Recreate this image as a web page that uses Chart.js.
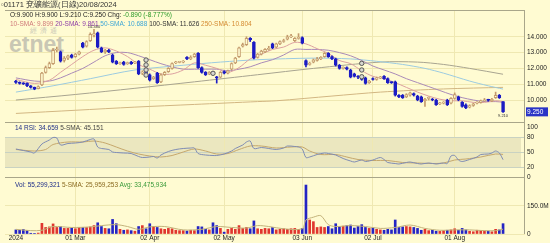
<!DOCTYPE html>
<html>
<head>
<meta charset="utf-8">
<script src="https://cdn.jsdelivr.net/npm/chart.js@4.4.1/dist/chart.umd.min.js"></script>
<style>
  html, body { margin: 0; padding: 0; background: #fffbd2; }
  #wrap { position: relative; width: 550px; height: 243px; overflow: hidden; font-family: "Liberation Sans", Arial, sans-serif; }
  #c { position: absolute; left: 0; top: 0; }
  .t { position: absolute; white-space: nowrap; font-size: 6.5px; line-height: 8px; color: #222; }
</style>
</head>
<body>
<div id="wrap">
  <div class="t" style="left:30px;top:27px;font-size:7px;color:#c9c7b4;letter-spacing:3px">經濟通</div>
  <div class="t" style="left:9px;top:32px;font-size:23px;line-height:24px;font-weight:bold;color:#c9c7b4">etnet</div>
  <canvas id="c" width="550" height="243"></canvas>
  <div class="t" style="left:1px;top:1px;font-size:7.5px;color:#333">▫01171 兗礦能源(日線)20/08/2024</div>
  <div class="t" style="left:10px;top:11px">O:9.900 H:9.900 L:9.210 C:9.250 Chg: <span style="color:#2a9a2a">-0.890 (-8.777%)</span></div>
  <div class="t" style="left:10px;top:20px"><span style="color:#d07a7a">10-SMA: 9.899</span> <span style="color:#9040a8">20-SMA: 9.861</span> <span style="color:#3ea6d6">50-SMA: 10.688</span> <span style="color:#333">100-SMA: 11.626</span> <span style="color:#d48a30">250-SMA: 10.804</span></div>
  <div class="t" style="left:15px;top:124px"><span style="color:#1c2c88">14 RSI: 34.659</span> <span style="color:#444">5-SMA: 45.151</span></div>
  <div class="t" style="left:15px;top:181px"><span style="color:#1c2c88">Vol: 55,299,321</span> <span style="color:#8a6a20">5-SMA: 25,959,253</span> <span style="color:#3a9a3a">Avg: 33,475,934</span></div>
</div>
<script>
// daily candles, 6 Feb 2024 .. 20 Aug 2024 (HK trading days)
const holidays = ['2024-02-12', '2024-02-13', '2024-03-29', '2024-04-01', '2024-04-04', '2024-05-01', '2024-05-15', '2024-06-10', '2024-07-01']
const xTickDates = ['2024-02-06', '2024-03-01', '2024-04-02', '2024-05-02', '2024-06-03', '2024-07-02', '2024-08-01']
const xTickLabels = ['2024', '01 Mar', '02 Apr', '02 May', '03 Jun', '02 Jul', '01 Aug']

const opens = [11.20, 11.12, 11.05, 11.05, 10.90, 10.80, 10.72, 10.95, 11.75, 12.05,
  12.30, 13.15, 13.05, 12.50, 12.65, 12.85, 12.75, 12.90, 13.60, 13.40,
  13.75, 14.10, 14.25, 13.30, 13.05, 13.15, 12.85, 12.45, 12.30, 12.40,
  12.30, 12.40, 12.35, 12.45, 11.70, 11.75, 11.60, 11.35, 11.70, 11.15,
  11.60, 11.80, 12.00, 12.35, 12.38, 12.40, 12.70, 12.60, 12.75, 12.95,
  12.05, 11.75, 11.65, 11.75, 11.45, 11.45, 11.80, 11.70, 11.95, 12.35,
  12.75, 13.40, 13.50, 13.90, 13.65, 12.70, 12.90, 13.05, 13.20, 13.55,
  13.35, 13.55, 13.70, 13.85, 14.00, 13.75, 13.90, 13.95, 12.50, 12.25,
  12.40, 12.50, 12.60, 12.75, 12.95, 12.75, 12.60, 12.20, 12.00, 12.05,
  11.90, 11.65, 11.50, 11.40, 11.40, 11.10, 11.35, 11.30, 11.40, 11.50,
  11.35, 11.12, 11.15, 10.30, 10.30, 10.20, 10.30, 10.40, 10.25, 10.20,
  9.95, 10.10, 10.05, 10.00, 9.75, 9.80, 10.00, 9.80, 10.10, 10.20,
  9.85, 9.70, 9.55, 9.65, 9.80, 9.85, 9.95, 10.00, 9.95, 10.15,
  10.30, 9.90]
const highs = [11.25, 11.15, 11.10, 11.08, 10.92, 10.82, 10.90, 11.75, 12.15, 12.40,
  13.25, 13.35, 13.10, 12.75, 12.85, 12.90, 12.95, 13.10, 13.65, 13.75,
  14.25, 14.48, 14.30, 13.35, 13.20, 13.20, 12.90, 12.50, 12.40, 12.45,
  12.40, 12.45, 12.45, 12.50, 11.85, 11.80, 11.65, 11.50, 11.75, 11.65,
  11.80, 12.05, 12.35, 12.45, 12.45, 12.50, 12.75, 12.80, 12.95, 13.00,
  12.10, 11.80, 11.80, 11.80, 11.50, 11.80, 11.85, 11.90, 12.35, 12.70,
  13.35, 13.60, 14.00, 13.95, 13.70, 12.95, 13.15, 13.25, 13.40, 13.60,
  13.60, 13.75, 13.85, 14.10, 14.15, 13.95, 14.20, 14.00, 12.55, 12.40,
  12.60, 12.70, 12.75, 13.00, 13.00, 12.80, 12.65, 12.25, 12.10, 12.10,
  11.95, 11.70, 11.55, 11.45, 11.45, 11.25, 11.40, 11.45, 11.50, 11.55,
  11.40, 11.15, 11.20, 10.35, 10.35, 10.40, 10.50, 10.45, 10.30, 10.25,
  10.10, 10.20, 10.10, 10.05, 9.85, 9.90, 10.05, 10.15, 10.45, 10.25,
  9.90, 9.75, 9.70, 9.80, 9.90, 10.00, 10.10, 10.05, 10.10, 10.50,
  10.35, 9.90]
const lows = [11.05, 11.00, 10.98, 10.85, 10.75, 10.65, 10.70, 10.90, 11.70, 12.00,
  12.25, 13.05, 12.40, 12.40, 12.55, 12.65, 12.70, 12.85, 13.30, 13.35,
  13.70, 14.00, 13.30, 13.00, 12.95, 13.00, 12.35, 12.25, 12.25, 12.20,
  12.25, 12.25, 12.30, 11.60, 11.60, 11.60, 11.20, 11.30, 11.05, 11.10,
  11.55, 11.75, 11.95, 12.30, 12.35, 12.35, 12.55, 12.55, 12.70, 12.00,
  11.70, 11.55, 11.60, 11.60, 11.07, 11.40, 11.65, 11.65, 11.90, 12.30,
  12.70, 13.35, 13.45, 13.70, 12.60, 12.65, 12.85, 13.00, 13.15, 13.25,
  13.30, 13.50, 13.65, 13.80, 13.95, 13.70, 13.85, 13.55, 12.10, 12.20,
  12.35, 12.45, 12.55, 12.70, 12.70, 12.55, 12.15, 11.95, 11.95, 11.90,
  11.40, 11.45, 11.35, 11.25, 11.00, 11.05, 11.25, 11.25, 11.35, 11.30,
  11.05, 11.05, 10.25, 10.15, 10.10, 10.15, 10.25, 10.25, 9.95, 9.85,
  9.60, 10.00, 9.95, 9.65, 9.70, 9.75, 9.65, 9.75, 10.05, 9.95,
  9.55, 9.45, 9.50, 9.60, 9.75, 9.80, 9.90, 9.92, 9.90, 10.10,
  10.10, 9.21]
const closes = [11.12, 11.05, 11.02, 10.90, 10.80, 10.68, 10.85, 11.70, 12.05, 12.30,
  13.15, 13.20, 12.45, 12.65, 12.80, 12.70, 12.90, 13.05, 13.35, 13.70,
  14.15, 14.20, 13.35, 13.05, 13.15, 13.05, 12.40, 12.30, 12.35, 12.25,
  12.35, 12.30, 12.40, 11.65, 11.75, 11.70, 11.25, 11.45, 11.10, 11.60,
  11.75, 12.00, 12.30, 12.40, 12.40, 12.45, 12.60, 12.70, 12.90, 12.05,
  11.75, 11.60, 11.75, 11.65, 11.40, 11.75, 11.70, 11.85, 12.30, 12.65,
  13.30, 13.50, 13.90, 13.80, 12.65, 12.90, 13.10, 13.20, 13.25, 13.30,
  13.55, 13.70, 13.75, 14.00, 14.05, 13.90, 13.95, 13.60, 12.20, 12.30,
  12.55, 12.60, 12.70, 12.95, 12.75, 12.60, 12.20, 12.00, 12.05, 11.95,
  11.45, 11.50, 11.45, 11.30, 11.05, 11.20, 11.30, 11.40, 11.45, 11.35,
  11.10, 11.10, 10.30, 10.20, 10.15, 10.35, 10.45, 10.30, 10.00, 9.90,
  10.05, 10.15, 10.00, 9.70, 9.80, 9.85, 9.70, 10.10, 10.35, 10.00,
  9.60, 9.50, 9.65, 9.75, 9.85, 9.95, 10.00, 9.98, 10.05, 10.30,
  10.14, 9.25]
// volume in millions of shares
const volumes = [22, 20, 24, 18, 4, 3, 5, 57, 35, 38,
  54, 35, 40, 30, 30, 32, 28, 35, 35, 35,
  38, 45, 60, 40, 30, 28, 78, 55, 25, 20,
  22, 18, 15, 40, 45, 28, 55, 40, 35, 28,
  25, 30, 28, 20, 18, 18, 16, 20, 18, 40,
  38, 25, 22, 60, 45, 30, 10, 25, 30, 25,
  45, 30, 35, 28, 70, 28, 25, 30, 28, 35,
  22, 25, 28, 25, 28, 30, 25, 30, 262, 75,
  66, 35, 38, 35, 40, 28, 55, 38, 42, 45,
  48, 32, 40, 50, 35, 30, 32, 25, 22, 20,
  25, 22, 75, 35, 38, 40, 38, 35, 30, 20,
  25, 18, 20, 15, 14, 18, 20, 22, 28, 20,
  30, 22, 15, 12, 20, 18, 16, 15, 12, 25,
  22, 55.3]

// moving averages: [candle index, value]
const sma10 = [[0, 11.3], [5, 11.05], [9, 11.25], [12, 11.75], [15, 12.25], [18, 12.75], [21, 13.15], [24, 13.3], [27, 13.1], [30, 12.75],
  [33, 12.25], [36, 11.95], [39, 11.65], [42, 11.65], [45, 11.9], [48, 12.35], [51, 12.2], [54, 12.0], [57, 11.75], [60, 12.05],
  [63, 12.6], [66, 12.9], [69, 13.2], [72, 13.35], [75, 13.65], [78, 13.55], [81, 13.25], [84, 12.95], [87, 12.5], [90, 12.3],
  [93, 11.85], [96, 11.5], [99, 11.35], [102, 11.1], [105, 10.8], [108, 10.5], [111, 10.25], [114, 10.05], [117, 9.95], [120, 9.95],
  [123, 9.85], [126, 9.85], [129, 9.95], [131, 9.9]]
const sma20 = [[0, 11.4], [5, 11.2], [9, 11.2], [12, 11.4], [15, 11.7], [18, 12.0], [21, 12.4], [24, 12.8], [27, 13.0], [30, 13.0],
  [33, 12.8], [36, 12.55], [39, 12.3], [42, 12.1], [45, 11.95], [48, 11.95], [51, 11.95], [54, 11.95], [57, 11.85], [60, 11.95],
  [63, 12.1], [66, 12.35], [69, 12.55], [72, 12.85], [75, 13.2], [78, 13.2], [81, 13.2], [84, 13.15], [87, 13.0], [90, 12.8],
  [93, 12.5], [96, 12.15], [99, 11.9], [102, 11.65], [105, 11.35], [108, 11.1], [111, 10.85], [114, 10.6], [117, 10.35], [120, 10.15],
  [123, 10.0], [126, 9.9], [129, 9.9], [131, 9.86]]
const sma50 = [[0, 10.5], [10, 10.9], [20, 11.35], [32, 11.9], [45, 12.2], [55, 12.4], [65, 12.55], [80, 12.65], [90, 12.6], [97, 12.45],
  [104, 12.25], [110, 12.0], [115, 11.7], [122, 11.2], [127, 10.9], [131, 10.69]]
const sma100 = [[0, 10.0], [16, 10.35], [32, 10.74], [48, 11.15], [65, 11.6], [80, 12.0], [98, 12.4], [108, 12.4], [115, 12.25], [122, 12.0],
  [131, 11.63]]
const sma250 = [[0, 9.15], [16, 9.35], [32, 9.55], [48, 9.72], [65, 9.9], [70, 9.95], [85, 10.25], [98, 10.5], [115, 10.7], [131, 10.8]]
// event markers drawn above some candles
const markers = [[35, 12.53], [35, 12.22], [35, 11.9], [35, 11.58], [53, 11.69], [93, 12.32], [93, 11.9], [93, 11.47]]

const rsi = [[0, 56], [2, 53], [4, 50], [5, 48], [7, 66], [9, 74], [10, 79], [11, 78], [12, 64], [14, 67],
  [16, 68], [18, 70], [20, 75], [21, 76], [22, 60], [23, 57], [25, 55], [26, 50], [27, 49], [29, 48],
  [31, 47], [33, 41], [34, 39], [36, 40], [37, 41], [38, 38], [39, 44], [41, 51], [43, 55], [45, 57],
  [47, 58], [48, 58], [49, 47], [51, 44], [53, 43], [54, 43], [56, 46], [58, 52], [59, 57], [61, 64],
  [62, 70], [63, 72], [64, 57], [66, 59], [68, 57], [70, 55], [72, 58], [73, 62], [75, 61], [76, 60],
  [77, 56], [78, 39], [79, 40], [81, 45], [83, 48], [84, 47], [86, 44], [88, 37], [90, 32], [91, 30],
  [93, 34], [94, 31], [96, 34], [98, 39], [99, 35], [100, 29], [102, 27], [103, 26], [105, 29], [106, 30],
  [108, 27], [109, 26], [111, 28], [113, 26], [114, 27], [115, 28], [116, 27], [117, 42], [118, 43], [119, 34],
  [120, 31], [122, 35], [124, 40], [125, 45], [127, 46], [128, 48], [129, 52], [130, 48], [131, 34.66]]
const rsiSma = [[0, 55], [5, 52], [8, 55], [10, 65], [14, 70], [18, 70], [21, 72], [24, 68], [27, 60], [30, 52],
  [33, 46], [36, 42], [39, 40], [42, 43], [45, 50], [48, 56], [51, 52], [54, 46], [57, 47], [60, 55],
  [63, 62], [66, 62], [70, 58], [74, 60], [77, 60], [79, 52], [82, 45], [86, 45], [89, 40], [92, 35],
  [96, 33], [100, 33], [104, 29], [108, 28], [112, 27], [115, 28], [118, 34], [121, 36], [125, 40], [129, 46],
  [131, 45.15]]
const volSma = [[0, 25], [4, 18], [7, 20], [10, 40], [15, 35], [20, 38], [23, 45], [27, 50], [30, 40], [33, 25],
  [36, 38], [40, 40], [45, 22], [50, 25], [54, 40], [58, 35], [62, 32], [65, 45], [68, 40], [72, 28],
  [77, 28], [78, 75], [80, 90], [82, 98], [84, 50], [86, 40], [90, 45], [94, 40], [98, 30], [102, 35],
  [106, 48], [110, 30], [114, 20], [118, 22], [122, 22], [126, 18], [129, 18], [131, 26]]

const dates = []
for (let d = new Date(Date.UTC(2024, 1, 6)); dates.length < closes.length; d.setUTCDate(d.getUTCDate() + 1)) {
  const s = d.toISOString().slice(0, 10)
  const wd = d.getUTCDay()
  if (wd === 0 || wd === 6 || holidays.includes(s)) continue
  dates.push(s)
}
const tickIdx = xTickDates.map(d => dates.indexOf(d))

const BG = '#fffbd2'
const UP = '#c39a6c'
const DOWN = '#1c1cc4'
const isUp = i => closes[i] >= opens[i]
const pts = arr => arr.map(([x, y]) => ({ x, y }))
const line = (data, color, axis) => ({
  type: 'line', data: pts(data), yAxisID: axis, borderColor: color, borderWidth: 1,
  pointRadius: 0, tension: 0.3, order: 5
})

const frame = {
  id: 'frame',
  beforeDraw(chart) {
    const { ctx, chartArea: a, scales } = chart
    const r = scales.yR
    const y80 = r.getPixelForValue(80)
    const y20 = r.getPixelForValue(20)
    ctx.save()
    ctx.fillStyle = '#ebe7bf'
    ctx.fillRect(a.left, y80, a.right - a.left - 4, y20 - y80)
    ctx.restore()
  },
  afterDraw(chart) {
    const { ctx, chartArea: a, scales } = chart
    ctx.save()
    ctx.strokeStyle = '#a9a68a'
    ctx.lineWidth = 1
    ctx.beginPath()
    for (const id of ['y', 'yR', 'yV']) {
      const t = Math.round(scales[id].top) + 0.5
      ctx.moveTo(a.left, t)
      ctx.lineTo(a.right, t)
    }
    ctx.moveTo(a.right - 0.5, a.top)
    ctx.lineTo(a.right - 0.5, a.bottom)
    ctx.stroke()

    // peak / last low annotations
    const x = scales.x, y = scales.y
    ctx.fillStyle = '#333'
    ctx.font = '4px "Liberation Sans", Arial'
    ctx.textAlign = 'center'
    ctx.fillText('14.480', x.getPixelForValue(21), y.getPixelForValue(14.48) - 1)
    ctx.textBaseline = 'top'
    ctx.fillText('9.210', x.getPixelForValue(131), y.getPixelForValue(9.21) + 1)

    // last price box
    const py = y.getPixelForValue(closes[closes.length - 1])
    ctx.fillStyle = '#2a34c6'
    ctx.fillRect(a.right + 1, py - 4.5, 22, 9)
    ctx.fillStyle = '#fff'
    ctx.textAlign = 'left'
    ctx.textBaseline = 'middle'
    ctx.font = '6.5px "Liberation Sans", Arial'
    ctx.fillText(closes[closes.length - 1].toFixed(3), a.right + 2, py)
    ctx.restore()
  }
}

const tickFont = { size: 6.5, family: '"Liberation Sans", Arial' }
const yAxis = (extra) => Object.assign({
  position: 'right', stack: 'panels',
  border: { display: false },
  ticks: { autoSkip: false, padding: 2, color: '#222', font: tickFont },
  afterFit: s => { s.width = 25 }
}, extra)

new Chart(document.getElementById('c'), {
  type: 'bar',
  data: {
    datasets: [
      {
        data: dates.map((_, i) => ({ x: i, y: [opens[i], closes[i]] })),
        yAxisID: 'y', grouped: false, barThickness: 3, minBarLength: 1,
        borderWidth: 1, borderSkipped: false,
        backgroundColor: dates.map((_, i) => isUp(i) ? BG : DOWN),
        borderColor: dates.map((_, i) => isUp(i) ? UP : DOWN),
        order: 1
      },
      {
        data: dates.map((_, i) => ({ x: i, y: [lows[i], highs[i]] })),
        yAxisID: 'y', grouped: false, barThickness: 1,
        backgroundColor: dates.map((_, i) => isUp(i) ? UP : DOWN),
        order: 2
      },
      line(sma10, '#dca0a0', 'y'),
      line(sma20, '#a98ab8', 'y'),
      line(sma50, '#9ccbe0', 'y'),
      line(sma100, '#a8a490', 'y'),
      line(sma250, '#d2b682', 'y'),
      {
        type: 'line', data: pts(markers), yAxisID: 'y', showLine: false,
        pointRadius: 2.2, pointBorderWidth: 1, pointBorderColor: '#555', pointBackgroundColor: '#d8d8d0', order: 0
      },
      line(rsi, '#7f8cb4', 'yR'),
      line(rsiSma, '#c6a86c', 'yR'),
      {
        data: dates.map((_, i) => ({ x: i, y: volumes[i] * 1e6 })),
        yAxisID: 'yV', grouped: false, barThickness: 2,
        backgroundColor: dates.map((_, i) => isUp(i) ? '#e0362e' : '#2424c4'),
        order: 2
      },
      Object.assign(line(volSma.map(([i, v]) => [i, v * 1e6]), '#c2b27a', 'yV'), { order: 1 })
    ]
  },
  options: {
    responsive: false,
    animation: false,
    layout: { padding: { top: 10, left: 0, right: 0, bottom: 0 } },
    plugins: { legend: { display: false }, tooltip: { enabled: false } },
    scales: {
      x: {
        type: 'linear', min: -2.93, max: 136.9, offset: false,
        afterBuildTicks: s => { s.ticks = tickIdx.map(v => ({ value: v })) },
        afterFit: s => { s.height = 9 },
        ticks: {
          autoSkip: false, maxRotation: 0, padding: 0, color: '#222', font: tickFont,
          callback: v => xTickLabels[tickIdx.indexOf(v)]
        },
        grid: { drawTicks: false, offset: false, color: c => c.index === 0 ? 'rgba(0,0,0,0)' : '#efe8b2' },
        border: { display: false }
      },
      y: yAxis({
        stackWeight: 112, min: 8.608, max: 15.696,
        afterBuildTicks: s => { s.ticks = [10, 11, 12, 13, 14].map(v => ({ value: v })) },
        ticks: { autoSkip: false, padding: 2, color: '#222', font: tickFont, callback: v => v.toFixed(3) },
        grid: { drawTicks: false, color: '#efe8b2' }
      }),
      yR: yAxis({
        stackWeight: 55, min: 0, max: 110,
        afterBuildTicks: s => { s.ticks = [0, 20, 50, 80, 100].map(v => ({ value: v })) },
        grid: { drawTicks: false, color: c => (c.tick.value === 0 || c.tick.value === 100) ? 'rgba(0,0,0,0)' : '#c9d2c2' }
      }),
      yV: yAxis({
        stackWeight: 57, min: 0, max: 305e6,
        afterBuildTicks: s => { s.ticks = [0, 150e6].map(v => ({ value: v })) },
        ticks: { autoSkip: false, padding: 2, color: '#222', font: tickFont, callback: v => v === 0 ? '0' : (v / 1e6).toFixed(1) + 'M' },
        grid: { drawTicks: false, color: '#efe8b2' }
      })
    }
  },
  plugins: [frame]
})
</script>
</body>
</html>
